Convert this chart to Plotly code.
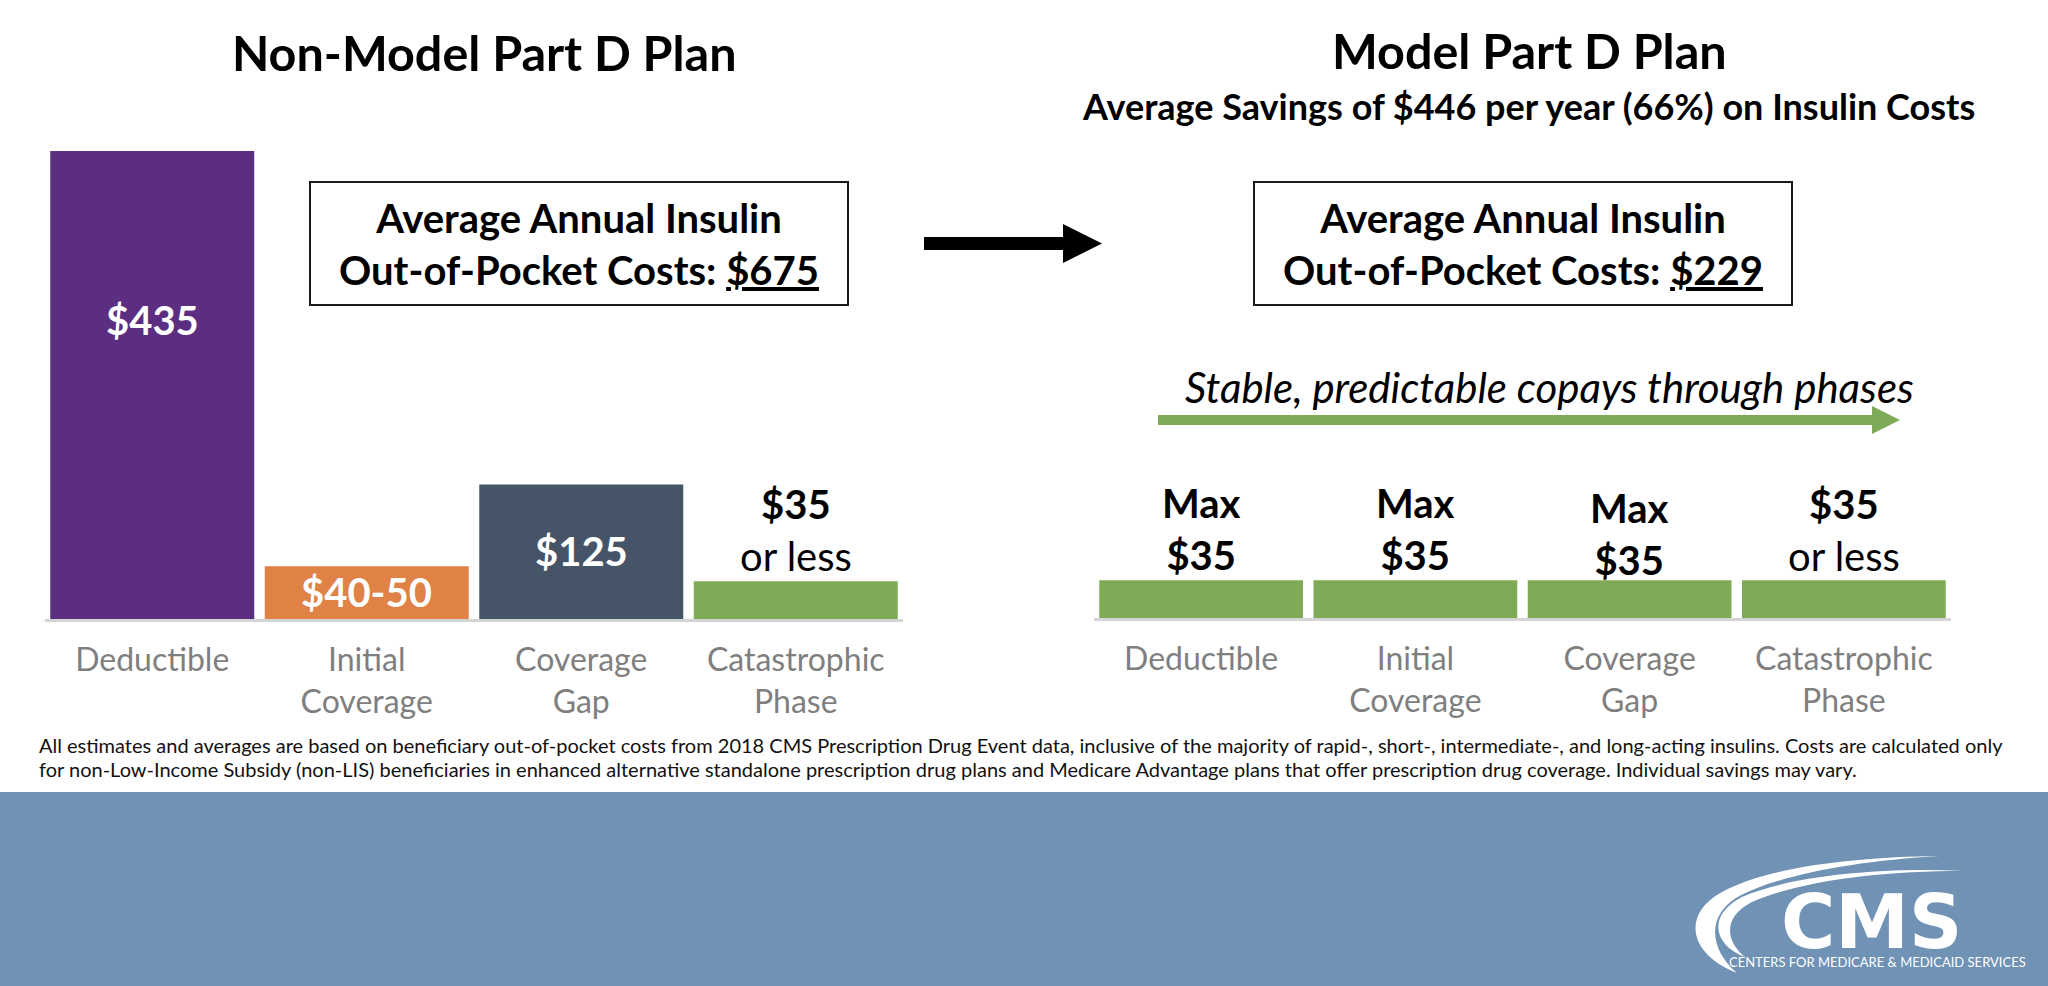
import plotly.graph_objects as go

W, H = 2048, 986

# ---------------- data ----------------
phases = ["Deductible", "Initial Coverage", "Coverage Gap", "Catastrophic Phase"]
phase_ticks = ["Deductible", "Initial<br>Coverage", "Coverage<br>Gap", "Catastrophic<br>Phase"]
non_model_cost = [435, 49, 125, 35]
model_cost = [35, 35, 35, 35]
non_model_text = ["<b>$435</b>", "<b>$40-50</b>", "<b>$125</b>", "<b>$35</b><br>or less"]
model_text = ["<b>Max<br>$35</b>", "<b>Max<br>$35</b>", "<b>Max<br>$35</b>", "<b>$35</b><br>or less"]
non_model_total = "$675"
model_total = "$229"
left_title = "Non-Model Part D Plan"
right_title = "Model Part D Plan"
savings_text = "Average Savings of $446 per year (66%) on Insulin Costs"
arrow_text = "Stable, predictable copays through phases"
footnote_lines = [
    "All estimates and averages are based on beneficiary out-of-pocket costs from 2018 CMS Prescription Drug Event data, "
    "inclusive of the majority of rapid-, short-, intermediate-, and long-acting insulins. Costs are calculated only",
    "for non-Low-Income Subsidy (non-LIS) beneficiaries in enhanced alternative standalone prescription drug plans and "
    "Medicare Advantage plans that offer prescription drug coverage. Individual savings may vary.",
]

# ---------------- styles ----------------
non_model_colors = ["#5b2e81", "#e08246", "#465468", "#7fab56"]
model_colors = ["#7fab56"] * 4
label_colors_nm = ["white", "white", "white", "black"]
BOLD = "Lato"
PX_PER_USD = 1.076
BASE_L, BASE_R = 619, 618
YTOP = 445


def fx(p):
    return p / W


def fy(p):
    return 1 - p / H


fig = go.Figure()
fig.add_trace(go.Bar(x=phases, y=non_model_cost, marker=dict(color=non_model_colors, line=dict(width=0)),
                     xaxis="x", yaxis="y", hoverinfo="skip", showlegend=False))
fig.add_trace(go.Bar(x=phases, y=model_cost, marker=dict(color=model_colors, line=dict(width=0)),
                     xaxis="x2", yaxis="y2", hoverinfo="skip", showlegend=False))

xcommon = dict(type="category", range=[-0.5, 3.5], showline=True, linecolor="#d4d4d4", linewidth=3,
               showgrid=False, zeroline=False, ticks="", tickvals=phases, ticktext=phase_ticks,
               tickfont=dict(family="Lato", size=32, color="#7f7f7f"), ticklabelstandoff=11, fixedrange=True)
fig.update_layout(
    xaxis=dict(domain=[fx(45), fx(903)], anchor="y", **xcommon),
    yaxis=dict(domain=[fy(BASE_L), fy(BASE_L - YTOP * PX_PER_USD)], range=[0, YTOP], visible=False, anchor="x"),
    xaxis2=dict(domain=[fx(1094), fx(1951)], anchor="y2", **xcommon),
    yaxis2=dict(domain=[fy(BASE_R), fy(BASE_R - YTOP * PX_PER_USD)], range=[0, YTOP], visible=False, anchor="x2"),
    bargap=0.049,
)

# bar value labels
nm_label_px = [320, 592, 551, 530]
m_label_px = [529, 529, 534, 530]
for i, ph in enumerate(phases):
    fig.add_annotation(x=ph, y=(BASE_L - nm_label_px[i]) / PX_PER_USD, xref="x", yref="y",
                       text=non_model_text[i], showarrow=False, yanchor="middle",
                       font=dict(family=BOLD, size=40, color=label_colors_nm[i]))
    fig.add_annotation(x=ph, y=(BASE_R - m_label_px[i]) / PX_PER_USD, xref="x2", yref="y2",
                       text=model_text[i], showarrow=False, yanchor="middle",
                       font=dict(family=BOLD, size=40, color="black"))


def ann(x, y, text, size, color="black", xanchor="center", align="center", family=BOLD, bold=True, italic=False):
    t = text
    if bold:
        t = f"<b>{t}</b>"
    if italic:
        t = f"<i>{t}</i>"
    fig.add_annotation(x=fx(x), y=fy(y), xref="paper", yref="paper", text=t, showarrow=False,
                       xanchor=xanchor, yanchor="middle", align=align,
                       font=dict(family=family, size=size, color=color))


# titles
ann(484, 52, left_title, 48.5)
ann(1529, 50, right_title, 48.5)
ann(1528, 106, savings_text, 36)

# boxes
shapes = []
for x0, x1 in [(310, 848), (1254, 1792)]:
    shapes.append(dict(type="rect", xref="paper", yref="paper", x0=fx(x0), x1=fx(x1), y0=fy(305), y1=fy(182),
                       line=dict(color="#1a1a1a", width=2), fillcolor="white", layer="below"))
ann(579, 244, f"Average Annual Insulin<br>Out-of-Pocket Costs: <u>{non_model_total}</u>", 40)
ann(1523, 244, f"Average Annual Insulin<br>Out-of-Pocket Costs: <u>{model_total}</u>", 40)


def poly(pts, color):
    d = "M " + " L ".join(f"{fx(a):.5f},{fy(b):.5f}" for a, b in pts) + " Z"
    return dict(type="path", xref="paper", yref="paper", path=d, fillcolor=color, line=dict(width=0))


# black arrow
shapes.append(poly([(924, 237), (1063, 237), (1063, 224), (1102, 243.5), (1063, 263), (1063, 250), (924, 250)], "black"))
# green arrow
shapes.append(poly([(1158, 415), (1872, 415), (1872, 406), (1900, 420), (1872, 434), (1872, 425), (1158, 425)], "#7fab56"))
ann(1549, 387, arrow_text, 42, bold=False, italic=True)

# footnote
for line, yc in zip(footnote_lines, [745, 769]):
    fig.add_annotation(x=fx(37), y=fy(yc), xref="paper", yref="paper", text=line, showarrow=False,
                       xanchor="left", yanchor="middle", align="left",
                       font=dict(family="Lato", size=20, color="#111111"))

# blue footer band
shapes.append(dict(type="rect", xref="paper", yref="paper", x0=0, x1=1, y0=0, y1=fy(792),
                   fillcolor="#6f92b5", line=dict(width=0), layer="below"))


def curve(cmds, color):
    out = []
    for c in cmds:
        if isinstance(c, str):
            out.append(c)
        else:
            out.append(f"{fx(c[0]):.5f},{fy(c[1]):.5f}")
    return dict(type="path", xref="paper", yref="paper", path=" ".join(out), fillcolor=color, line=dict(width=0))


# CMS logo swooshes
shapes.append(curve(["M", (1737, 973), "C", (1690, 955), (1680, 915), (1722, 892), "C", (1765, 868), (1850, 857), (1940, 856),
                     "C", (1850, 861), (1772, 877), (1736, 898), "C", (1706, 917), (1710, 950), (1737, 973), "Z"], "white"))
shapes.append(curve(["M", (1745, 957), "C", (1713, 945), (1707, 915), (1742, 897), "C", (1790, 876), (1880, 867), (1963, 871),
                     "C", (1880, 871), (1800, 881), (1752, 902), "C", (1724, 916), (1724, 940), (1745, 957), "Z"], "white"))
ann(1871, 922, "CMS", 74, color="white", family="DejaVu Sans")
ann(1877, 962, "CENTERS FOR MEDICARE &amp; MEDICAID SERVICES", 13, color="white", bold=False)

fig.update_layout(shapes=shapes, width=W, height=H, margin=dict(l=0, r=0, t=0, b=0),
                  paper_bgcolor="white", plot_bgcolor="rgba(0,0,0,0)", showlegend=False)

fig.write_html("out.html", config={"displayModeBar": False},
               post_script="document.body.style.margin='0';document.body.style.overflow='hidden';")
